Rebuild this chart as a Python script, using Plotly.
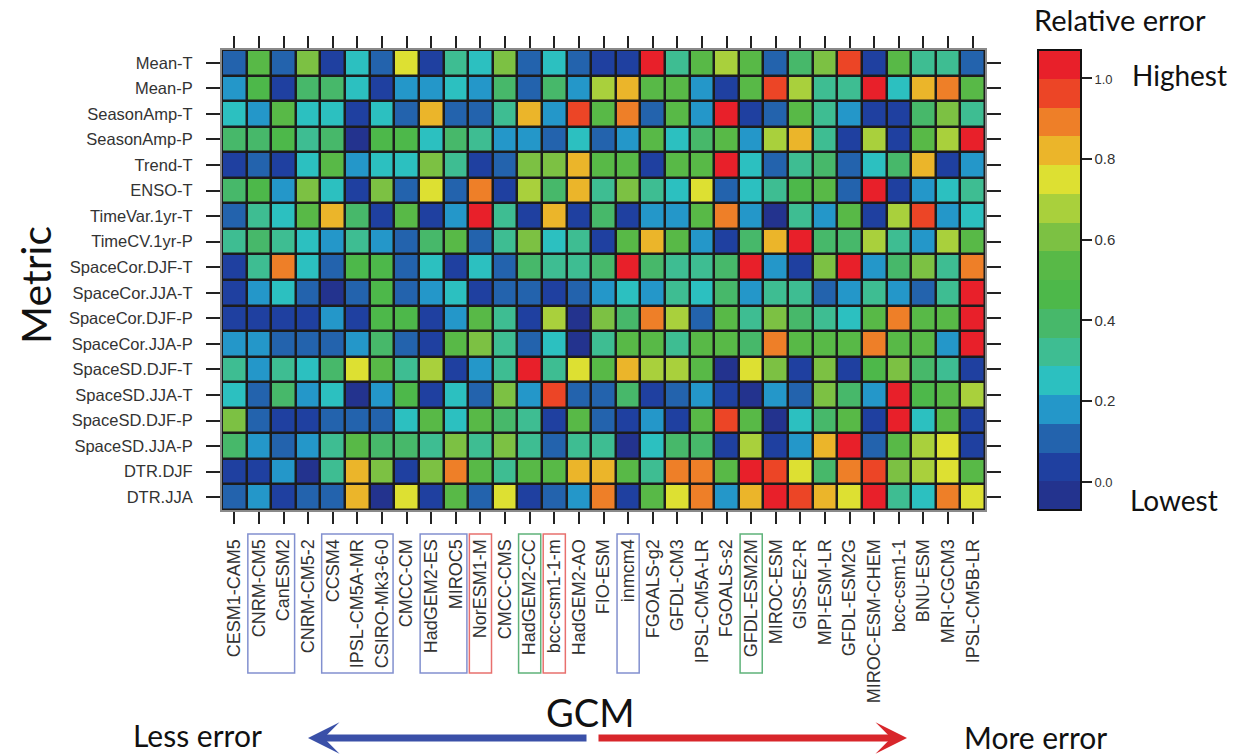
import plotly.graph_objects as go

models = ["CESM1-CAM5", "CNRM-CM5", "CanESM2", "CNRM-CM5-2", "CCSM4", "IPSL-CM5A-MR",
          "CSIRO-Mk3-6-0", "CMCC-CM", "HadGEM2-ES", "MIROC5", "NorESM1-M", "CMCC-CMS",
          "HadGEM2-CC", "bcc-csm1-1-m", "HadGEM2-AO", "FIO-ESM", "inmcm4", "FGOALS-g2",
          "GFDL-CM3", "IPSL-CM5A-LR", "FGOALS-s2", "GFDL-ESM2M", "MIROC-ESM", "GISS-E2-R",
          "MPI-ESM-LR", "GFDL-ESM2G", "MIROC-ESM-CHEM", "bcc-csm1-1", "BNU-ESM",
          "MRI-CGCM3", "IPSL-CM5B-LR"]

metrics = ["Mean-T", "Mean-P", "SeasonAmp-T", "SeasonAmp-P", "Trend-T", "ENSO-T",
           "TimeVar.1yr-T", "TimeCV.1yr-P", "SpaceCor.DJF-T", "SpaceCor.JJA-T",
           "SpaceCor.DJF-P", "SpaceCor.JJA-P", "SpaceSD.DJF-T", "SpaceSD.JJA-T",
           "SpaceSD.DJF-P", "SpaceSD.JJA-P", "DTR.DJF", "DTR.JJA"]

# relative error per metric (row) for each model (column)
mean_t = [0.11, 0.54, 0.11, 0.61, 0.04, 0.25, 0.11, 0.75, 0.04, 0.32, 0.25, 0.61, 0.11, 0.25, 0.11, 0.04,
          0.04, 1.03, 0.32, 0.54, 0.68, 0.54, 0.11, 0.39, 0.61, 0.96, 0.04, 0.54, 0.32, 0.32, 0.11]
mean_p = [0.18, 0.46, 0.04, 0.39, 0.39, 0.25, 0.04, 0.18, 0.18, 0.25, 0.18, 0.39, 0.11, 0.39, 0.18, 0.68,
          0.82, 0.54, 0.54, 0.18, 0.04, 0.54, 0.96, 0.68, 0.32, 0.32, 1.03, 0.25, 0.82, 0.89, 0.54]
season_amp_t = [0.25, 0.18, 0.54, 0.25, 0.25, 0.04, 0.25, 0.11, 0.82, 0.11, 0.11, 0.32, 0.82, 0.18, 0.96, 0.54,
                0.89, 0.11, 0.54, 0.18, 1.03, 0.04, 0.11, 0.54, 0.32, 0.18, 0.04, 0.04, 0.39, 0.61, 0.32]
season_amp_p = [0.39, 0.39, 0.46, 0.32, 0.39, -0.03, 0.46, 0.46, 0.25, 0.39, 0.32, 0.18, 0.18, 0.11, 0.25, 0.11,
                0.18, 0.54, 0.25, 0.39, 0.54, 0.18, 0.68, 0.82, 0.32, 0.04, 0.68, 0.04, 0.54, 0.68, 1.03]
trend_t = [0.04, 0.11, 0.04, 0.25, 0.54, 0.18, 0.25, 0.25, 0.61, 0.32, 0.04, 0.11, 0.61, 0.61, 0.82, 0.54,
           0.54, 0.04, 0.54, 0.54, 1.03, 0.25, 0.11, 0.32, 0.39, 0.11, 0.25, 0.39, 0.82, 0.04, 0.18]
enso_t = [0.39, 0.46, 0.18, 0.61, 0.25, 0.04, 0.61, 0.11, 0.75, 0.11, 0.89, 0.04, 0.68, 0.39, 0.82, 0.32,
          0.61, 0.32, 0.25, 0.75, 0.11, 0.25, 0.32, 0.46, 0.54, 0.11, 1.03, 0.04, 0.18, 0.25, 0.32]
timevar_t = [0.11, 0.32, 0.25, 0.54, 0.82, 0.39, 0.04, 0.54, 0.04, 0.18, 1.03, 0.32, 0.04, 0.82, 0.04, 0.39,
             0.04, 0.18, 0.18, 0.54, 0.89, 0.18, -0.03, 0.32, 0.18, 0.54, 0.04, 0.68, 0.96, 0.18, 0.25]
timecv_p = [0.32, 0.39, 0.32, 0.25, 0.18, 0.32, 0.18, 0.11, 0.39, 0.54, 0.11, 0.32, 0.61, 0.25, 0.32, 0.04,
            0.54, 0.82, 0.54, 0.18, 0.04, 0.39, 0.82, 1.03, 0.39, 0.39, 0.68, 0.32, 0.18, 0.68, 0.54]
spacecor_djf_t = [0.04, 0.32, 0.89, 0.25, 0.11, 0.46, 0.46, 0.11, 0.25, 0.04, 0.25, 0.11, 0.39, 0.32, 0.32, 0.39,
                  1.03, 0.39, 0.32, 0.32, 0.39, 1.03, 0.18, 0.04, 0.61, 1.03, 0.18, 0.39, 0.61, 0.32, 0.89]
spacecor_jja_t = [0.04, 0.18, 0.25, 0.11, -0.03, 0.11, 0.46, 0.11, 0.18, 0.25, 0.04, 0.11, 0.11, 0.04, 0.11, 0.18,
                  0.25, 0.18, 0.32, 0.25, 0.39, 0.18, 0.32, 0.32, 0.11, 0.18, 0.32, 0.18, 0.11, 0.32, 1.03]
spacecor_djf_p = [0.04, 0.04, 0.04, 0.04, 0.18, 0.04, 0.46, 0.46, 0.04, 0.18, 0.54, 0.32, 0.04, 0.68, -0.03, 0.61,
                  0.39, 0.89, 0.68, 0.11, 0.54, 0.32, 0.61, 0.39, 0.32, 0.25, 0.54, 0.89, 0.54, 0.54, 1.03]
spacecor_jja_p = [0.18, 0.18, 0.11, 0.11, 0.11, 0.18, 0.39, 0.11, 0.04, 0.54, 0.61, 0.32, 0.11, 0.25, -0.03, 0.32,
                  0.54, 0.54, 0.32, 0.54, 0.54, 0.39, 0.89, 0.54, 0.54, 0.54, 0.89, 0.54, 0.54, 0.18, 1.03]
spacesd_djf_t = [0.32, 0.18, 0.32, 0.25, 0.39, 0.75, 0.54, 0.32, 0.68, 0.04, 0.18, 0.32, 1.03, 0.32, 0.75, 0.54,
                 0.82, 0.68, 0.68, 0.54, -0.03, 0.75, 0.61, 0.04, 0.61, 0.04, 0.46, 0.61, 0.39, 0.32, 0.04]
spacesd_jja_t = [0.25, 0.11, 0.39, 0.18, 0.25, -0.03, 0.18, 0.46, 0.04, 0.25, 0.11, 0.61, 0.18, 0.96, 0.11, 0.11,
                 0.39, 0.04, 0.11, 0.18, 0.04, -0.03, 0.18, 0.11, 0.61, 0.39, 0.18, 1.03, 0.46, 0.54, 0.68]
spacesd_djf_p = [0.61, 0.11, 0.04, 0.04, 0.11, 0.11, 0.11, 0.25, 0.54, 0.25, 0.54, 0.39, 0.32, 0.04, 0.54, 0.11,
                 0.04, 0.18, 0.04, 0.54, 0.96, 0.54, -0.03, 0.25, 0.39, 0.54, 0.04, 1.03, 0.25, 0.54, 0.04]
spacesd_jja_p = [0.39, 0.18, 0.11, 0.18, 0.32, 0.54, 0.39, 0.39, 0.32, 0.61, 0.32, 0.61, 0.32, 0.11, 0.32, 0.32,
                 -0.03, 0.25, 0.39, 0.39, 0.04, 0.68, 0.04, 0.18, 0.82, 1.03, 0.11, 0.54, 0.68, 0.75, 0.04]
dtr_djf = [0.04, 0.04, 0.18, -0.03, 0.32, 0.82, 0.61, 0.04, 0.61, 0.89, 0.54, 0.32, 0.54, 0.54, 0.82, 0.82,
           0.54, 0.32, 0.89, 0.89, 0.54, 1.03, 0.96, 0.75, 0.39, 0.89, 0.96, 0.61, 0.68, 0.75, 0.54]
dtr_jja = [0.11, 0.18, 0.04, 0.11, 0.11, 0.82, -0.03, 0.75, 0.04, 0.54, 0.11, 0.75, 0.04, 0.11, 0.18, 0.89,
           0.04, 0.54, 0.75, 0.89, 0.18, 0.82, 1.03, 0.96, 0.82, 0.75, 1.03, 0.32, 0.25, 0.89, 0.75]

rows = [mean_t, mean_p, season_amp_t, season_amp_p, trend_t, enso_t, timevar_t, timecv_p,
        spacecor_djf_t, spacecor_jja_t, spacecor_djf_p, spacecor_jja_p, spacesd_djf_t,
        spacesd_jja_t, spacesd_djf_p, spacesd_jja_p, dtr_djf, dtr_jja]

band_colors = ["#23338e", "#1f40a0", "#2363ad", "#2497c9", "#2cc0c0", "#3ebd92", "#47b86a",
               "#4db84a", "#58b947", "#7cc143", "#a9d03c", "#dde032", "#ebb52a", "#ee7f28",
               "#ec4526", "#e8202a"]
zmin, zmax = -0.07, 1.07
cbar_ticks = [0.0, 0.2, 0.4, 0.6, 0.8, 1.0]

# model groups highlighted below the axis: (members, outline colour)
groups = [(["CNRM-CM5", "CanESM2"], "#8290cf"),
          (["CCSM4", "IPSL-CM5A-MR", "CSIRO-Mk3-6-0"], "#8290cf"),
          (["HadGEM2-ES", "MIROC5"], "#8290cf"),
          (["NorESM1-M"], "#e8706e"),
          (["HadGEM2-CC"], "#5fb37a"),
          (["bcc-csm1-1-m"], "#e8706e"),
          (["inmcm4"], "#8290cf"),
          (["GFDL-ESM2M"], "#5fb37a")]

n = len(band_colors)
colorscale = []
for i, c in enumerate(band_colors):
    colorscale.append([i / n, c])
    colorscale.append([(i + 1) / n, c])

W, H = 1237, 755
L, R, T, B = 222, 985, 50, 510
pw, ph = R - L, B - T


def px(x):
    return (x - L) / pw


def py(y):
    return (B - y) / ph


def tick_text(v):
    s = f"{v:.1f}"
    if v in (0.0, 1.0):
        return f"<span style='font-size:13px'>{s}</span>"
    return s


fig = go.Figure()
fig.add_trace(go.Heatmap(
    z=rows, x=models, y=metrics,
    zmin=zmin, zmax=zmax, colorscale=colorscale,
    xgap=2.5, ygap=2.5,
    colorbar=dict(
        x=px(1038), xanchor="left", xpad=0,
        y=py(280), yanchor="middle", ypad=0,
        len=460, lenmode="pixels",
        thickness=43, thicknessmode="pixels",
        outlinewidth=2, outlinecolor="#111",
        tickvals=cbar_ticks, ticktext=[tick_text(v) for v in cbar_ticks],
        ticks="outside", ticklen=10, tickwidth=1.5, tickcolor="#222",
        tickfont=dict(family="Liberation Sans, Arial", size=15, color="#333"),
    ),
))

fig.update_layout(
    width=W, height=H,
    margin=dict(l=L, r=W - R, t=T, b=H - B),
    paper_bgcolor="white", plot_bgcolor="#1c1c1c",
    font=dict(family="Liberation Sans, Arial", color="#333"),
    showlegend=False,
)
fig.update_xaxes(
    type="category", tickangle=-90, ticks="outside", ticklen=12, tickwidth=1.5,
    tickcolor="#222", showline=True, linecolor="#8a8a8a", linewidth=2, mirror="ticks",
    showgrid=False, zeroline=False, ticklabelstandoff=8,
    tickfont=dict(family="Liberation Sans, Arial", size=18, color="#333"),
)
fig.update_yaxes(
    type="category", autorange="reversed", ticks="outside", ticklen=14, tickwidth=1.5,
    tickcolor="#222", showline=True, linecolor="#8a8a8a", linewidth=2, mirror="ticks",
    showgrid=False, zeroline=False, ticklabelstandoff=10,
    tickfont=dict(family="Liberation Sans, Arial", size=16.5, color="#333"),
)

# group boxes around x labels
for members, col in groups:
    i0 = models.index(members[0])
    i1 = models.index(members[-1])
    fig.add_shape(type="rect", xref="x", yref="paper",
                  x0=i0 - 0.45, x1=i1 + 0.45, y0=py(534), y1=py(673),
                  line=dict(color=col, width=1.5), fillcolor="rgba(0,0,0,0)")

title_font = "Lato, Open Sans, sans-serif"
ann = [
    dict(text="Metric", x=px(35), y=py(285), textangle=-90, size=41),
    dict(text="GCM", x=px(590), y=py(712), textangle=0, size=38),
    dict(text="Less error", x=px(197), y=py(735), textangle=0, size=30),
    dict(text="More error", x=px(1035), y=py(737), textangle=0, size=30),
    dict(text="Relative error", x=px(1120), y=py(20), textangle=0, size=29),
]
for a in ann:
    fig.add_annotation(text=a["text"], x=a["x"], y=a["y"], xref="paper", yref="paper",
                       xanchor="center", yanchor="middle", textangle=a["textangle"],
                       showarrow=False, font=dict(family=title_font, size=a["size"], color="#111"))
fig.add_annotation(text="Highest", x=px(1130), y=py(75), xref="paper", yref="paper",
                   xanchor="left", yanchor="middle", showarrow=False,
                   font=dict(family=title_font, size=28, color="#111"))
fig.add_annotation(text="Lowest", x=px(1128), y=py(500), xref="paper", yref="paper",
                   xanchor="left", yanchor="middle", showarrow=False,
                   font=dict(family=title_font, size=28, color="#111"))

# arrows
fig.add_annotation(x=px(308), y=py(738), xref="paper", yref="paper", text="",
                   showarrow=True, ax=280, ay=0, arrowhead=3, arrowsize=0.75,
                   arrowwidth=7, arrowcolor="#3a50a8", standoff=0)
fig.add_annotation(x=px(907), y=py(738), xref="paper", yref="paper", text="",
                   showarrow=True, ax=-310, ay=0, arrowhead=3, arrowsize=0.75,
                   arrowwidth=7, arrowcolor="#d8262b", standoff=0)

fig.write_html("out.html")
